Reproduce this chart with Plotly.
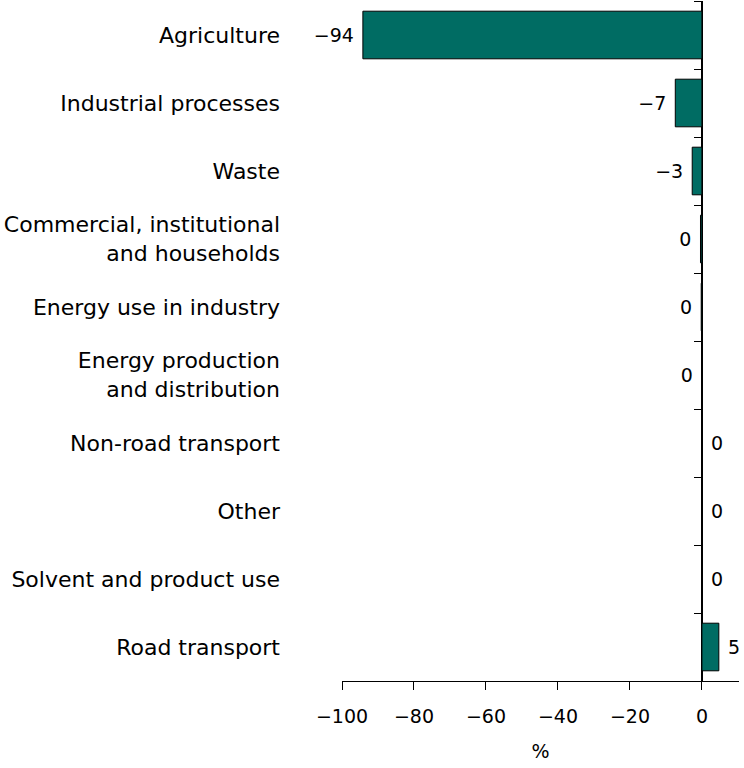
import plotly.graph_objects as go

categories = [
    "Agriculture",
    "Industrial processes",
    "Waste",
    "Commercial, institutional<br>and households",
    "Energy use in industry",
    "Energy production<br>and distribution",
    "Non-road transport",
    "Other",
    "Solvent and product use",
    "Road transport",
]
values = [-94.2, -7.4, -2.7, -0.4, -0.2, -0.01, 0.01, 0.01, 0.01, 4.7]
value_labels = ["\u221294", "\u22127", "\u22123", "0", "0", "0", "0", "0", "0", "5"]
x_ticks = [-100, -80, -60, -40, -20, 0]
x_range = [-100, 10.3]

FONT = "Verdana, DejaVu Sans, sans-serif"
BAR_COLOR = "rgb(0,108,99)"

texts = [(lab + "\u00a0") if v < 0 else ("\u00a0" + lab) for v, lab in zip(values, value_labels)]

fig = go.Figure()
fig.add_trace(go.Bar(
    x=values, y=categories, orientation="h",
    marker=dict(color=BAR_COLOR, line=dict(color="black", width=1)),
    width=0.7,
    text=texts, textposition="outside", cliponaxis=False,
    constraintext="none",
    textfont=dict(family=FONT, size=19, color="black"),
    hoverinfo="skip", showlegend=False,
))
# invisible trace to carry the boundary ticks of the zero axis
fig.add_trace(go.Scatter(
    x=[0] * len(categories), y=categories, yaxis="y2", mode="markers",
    marker=dict(opacity=0), hoverinfo="skip", showlegend=False,
))

zero_pos = (0 - x_range[0]) / (x_range[1] - x_range[0])

fig.update_layout(
    width=744, height=768,
    margin=dict(l=342, r=5, t=1, b=87),
    paper_bgcolor="white", plot_bgcolor="white",
    font=dict(family=FONT, color="black"),
    xaxis=dict(
        range=x_range, tickvals=x_ticks, showgrid=False,
        zeroline=True, zerolinecolor="black", zerolinewidth=1.5,
        showline=True, linecolor="black", linewidth=1.3,
        ticks="outside", ticklen=8, tickcolor="black", tickwidth=1.3,
        tickfont=dict(size=19, family=FONT), ticklabelstandoff=10,
        title=dict(text="%", font=dict(size=19, family=FONT), standoff=18),
        automargin=False,
    ),
    yaxis=dict(
        type="category", categoryorder="array", categoryarray=categories,
        range=[len(categories) - 0.5, -0.5],
        showgrid=False, zeroline=False, showline=False, ticks="",
        tickfont=dict(size=22, family=FONT), ticklabelstandoff=61,
        automargin=False,
    ),
    yaxis2=dict(
        type="category", categoryorder="array", categoryarray=categories,
        range=[len(categories) - 0.5, -0.5],
        overlaying="y", anchor="free", position=zero_pos, side="left",
        showgrid=False, zeroline=False, showline=False,
        ticks="outside", tickson="boundaries", ticklen=8, tickcolor="black", tickwidth=1.3,
        showticklabels=False, automargin=False,
    ),
    bargap=0.3,
)

fig.write_html(
    "out.html",
    config={"displayModeBar": False},
    post_script="document.body.style.margin='0';",
)
